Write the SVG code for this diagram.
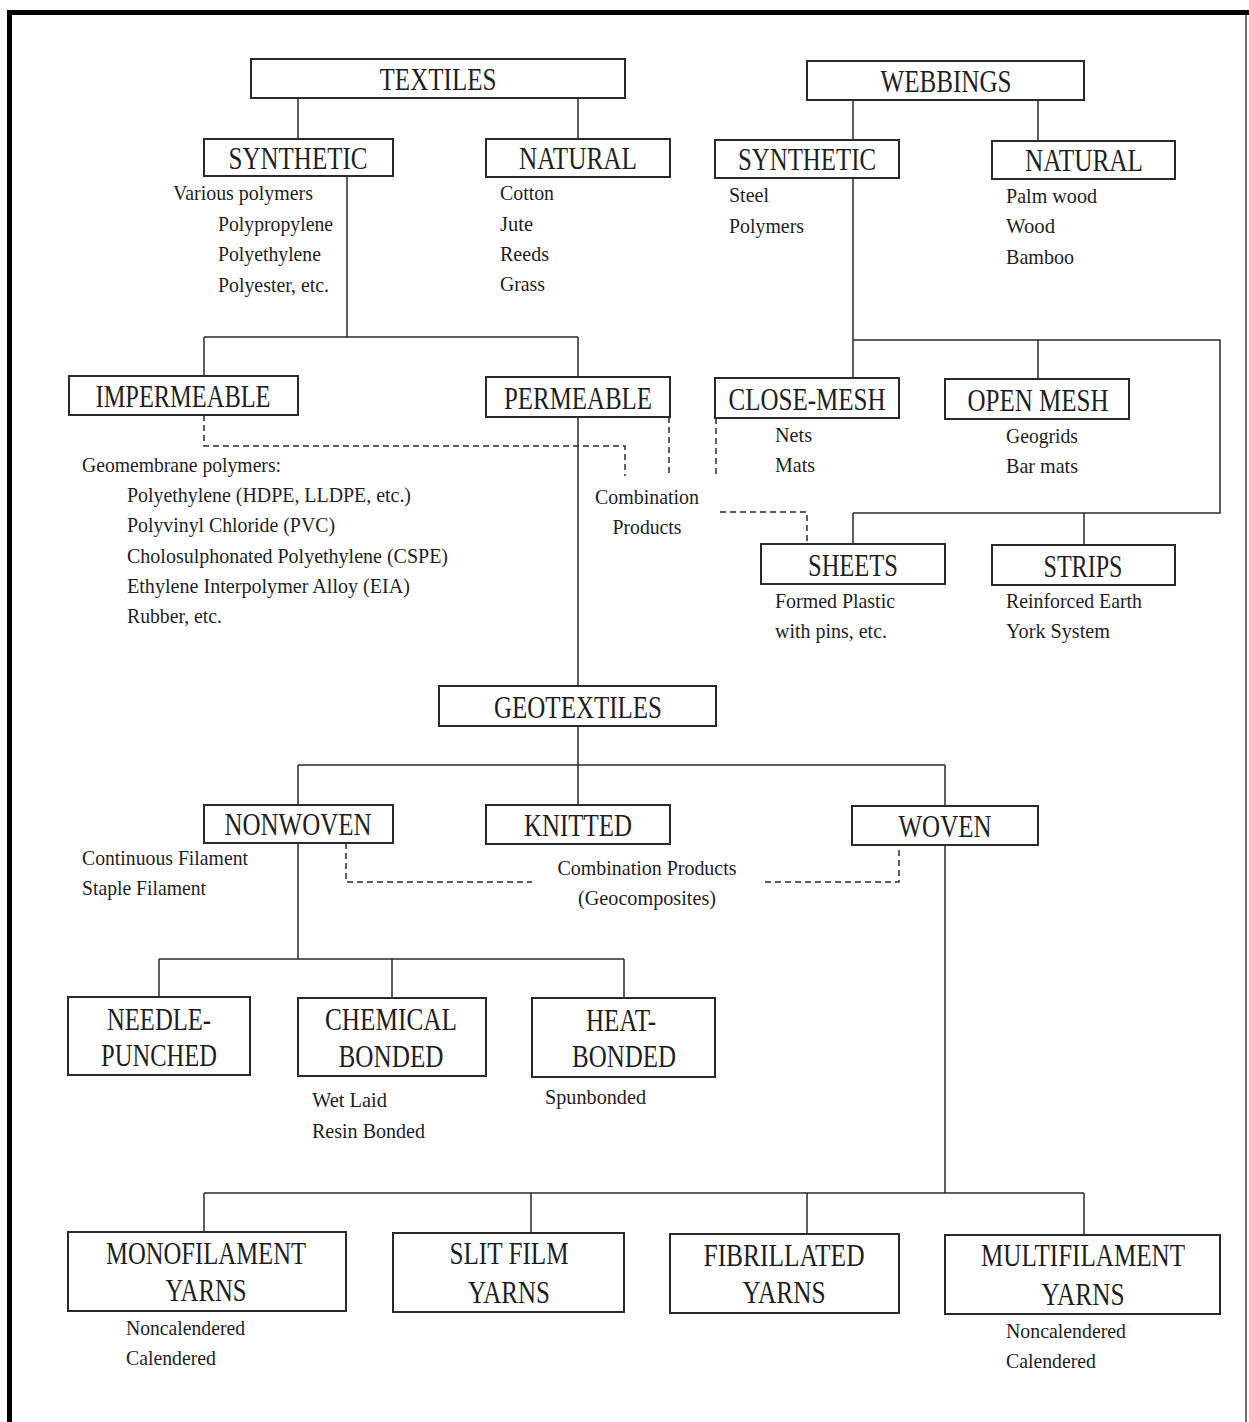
<svg xmlns="http://www.w3.org/2000/svg" width="1249" height="1422" viewBox="0 0 1249 1422">
<style>
.box{fill:#fff;stroke:#2a2a2a;stroke-width:2}
.lbl{font-family:"Liberation Serif","Times New Roman",serif;font-size:31px;fill:#1e1e1e;text-anchor:middle}
.txt{font-family:"Liberation Serif","Times New Roman",serif;font-size:22px;fill:#1e1e1e}
.mid{text-anchor:middle}
.conn{fill:none;stroke:#2a2a2a;stroke-width:1.5}
.dash{fill:none;stroke:#2a2a2a;stroke-width:1.5;stroke-dasharray:6 4}
</style>
<rect width="1249" height="1422" fill="#fff"/>
<g id="frame">
<rect x="7" y="10" width="1242" height="5" fill="#000"/>
<rect x="7" y="10" width="5" height="1412" fill="#000"/>
<line x1="1246" y1="15" x2="1246" y2="1422" stroke="#444" stroke-width="1.5"/>
</g>
<g id="connectors">
<path class="conn" d="M298 98V139M578 98V139M853 100V140M1038 100V141"/>
<path class="conn" d="M347 176V337M204 337H578M204 337V376M578 337V377"/>
<path class="conn" d="M853 178V378M853 340H1220V513H853M1038 340V379M853 513V544M1084 513V545"/>
<path class="conn" d="M578 417V686"/>
<path class="conn" d="M578 726V805M298 765H945M298 765V805M945 765V806"/>
<path class="conn" d="M298 843V959M159 959H624M159 959V997M392 959V998M624 959V998"/>
<path class="conn" d="M945 845V1193M204 1193H1084M204 1193V1232M531 1193V1233M807 1193V1234M1084 1193V1235"/>
<path class="dash" d="M204 415V446H625V476M669 417V476"/>
<path class="dash" d="M716 418V476M720 512H807V544"/>
<path class="dash" d="M346 843V882H532M765 882H899V845"/>
</g>
<g id="textiles"><rect class="box" x="251" y="59" width="374" height="39"/><text class="lbl" x="438" y="90" textLength="117" lengthAdjust="spacingAndGlyphs">TEXTILES</text></g>
<g id="webbings"><rect class="box" x="807" y="61" width="277" height="39"/><text class="lbl" x="946" y="92" textLength="131" lengthAdjust="spacingAndGlyphs">WEBBINGS</text></g>
<g id="textiles-synthetic"><rect class="box" x="204" y="139" width="189" height="37"/><text class="lbl" x="298" y="169" textLength="139" lengthAdjust="spacingAndGlyphs">SYNTHETIC</text>
<text class="txt" x="173" y="200" textLength="140" lengthAdjust="spacingAndGlyphs">Various polymers</text>
<text class="txt" x="218" y="231" textLength="115" lengthAdjust="spacingAndGlyphs">Polypropylene</text>
<text class="txt" x="218" y="261" textLength="103" lengthAdjust="spacingAndGlyphs">Polyethylene</text>
<text class="txt" x="218" y="292" textLength="111" lengthAdjust="spacingAndGlyphs">Polyester, etc.</text></g>
<g id="textiles-natural"><rect class="box" x="486" y="139" width="184" height="38"/><text class="lbl" x="578" y="169" textLength="118" lengthAdjust="spacingAndGlyphs">NATURAL</text>
<text class="txt" x="500" y="200" textLength="54" lengthAdjust="spacingAndGlyphs">Cotton</text>
<text class="txt" x="500" y="231" textLength="33" lengthAdjust="spacingAndGlyphs">Jute</text>
<text class="txt" x="500" y="261" textLength="49" lengthAdjust="spacingAndGlyphs">Reeds</text>
<text class="txt" x="500" y="291" textLength="45" lengthAdjust="spacingAndGlyphs">Grass</text></g>
<g id="webbings-synthetic"><rect class="box" x="715" y="140" width="184" height="38"/><text class="lbl" x="807" y="170" textLength="138" lengthAdjust="spacingAndGlyphs">SYNTHETIC</text>
<text class="txt" x="729" y="202" textLength="40" lengthAdjust="spacingAndGlyphs">Steel</text>
<text class="txt" x="729" y="233" textLength="75" lengthAdjust="spacingAndGlyphs">Polymers</text></g>
<g id="webbings-natural"><rect class="box" x="992" y="141" width="183" height="38"/><text class="lbl" x="1084" y="171" textLength="118" lengthAdjust="spacingAndGlyphs">NATURAL</text>
<text class="txt" x="1006" y="203" textLength="91" lengthAdjust="spacingAndGlyphs">Palm wood</text>
<text class="txt" x="1006" y="233" textLength="49" lengthAdjust="spacingAndGlyphs">Wood</text>
<text class="txt" x="1006" y="264" textLength="68" lengthAdjust="spacingAndGlyphs">Bamboo</text></g>
<g id="impermeable"><rect class="box" x="69" y="376" width="229" height="39"/><text class="lbl" x="183" y="407" textLength="175" lengthAdjust="spacingAndGlyphs">IMPERMEABLE</text>
<text class="txt" x="82" y="472" textLength="199" lengthAdjust="spacingAndGlyphs">Geomembrane polymers:</text>
<text class="txt" x="127" y="502" textLength="284" lengthAdjust="spacingAndGlyphs">Polyethylene (HDPE, LLDPE, etc.)</text>
<text class="txt" x="127" y="532" textLength="208" lengthAdjust="spacingAndGlyphs">Polyvinyl Chloride (PVC)</text>
<text class="txt" x="127" y="563" textLength="321" lengthAdjust="spacingAndGlyphs">Cholosulphonated Polyethylene (CSPE)</text>
<text class="txt" x="127" y="593" textLength="283" lengthAdjust="spacingAndGlyphs">Ethylene Interpolymer Alloy (EIA)</text>
<text class="txt" x="127" y="623" textLength="95" lengthAdjust="spacingAndGlyphs">Rubber, etc.</text></g>
<g id="permeable"><rect class="box" x="486" y="377" width="184" height="40"/><text class="lbl" x="578" y="409" textLength="148" lengthAdjust="spacingAndGlyphs">PERMEABLE</text></g>
<g id="combination-products-1"><text class="txt mid" x="647" y="504" textLength="104" lengthAdjust="spacingAndGlyphs">Combination</text>
<text class="txt mid" x="647" y="534" textLength="69" lengthAdjust="spacingAndGlyphs">Products</text></g>
<g id="close-mesh"><rect class="box" x="715" y="378" width="184" height="40"/><text class="lbl" x="807" y="410" textLength="157" lengthAdjust="spacingAndGlyphs">CLOSE-MESH</text>
<text class="txt" x="775" y="442" textLength="37" lengthAdjust="spacingAndGlyphs">Nets</text>
<text class="txt" x="775" y="472" textLength="40" lengthAdjust="spacingAndGlyphs">Mats</text></g>
<g id="open-mesh"><rect class="box" x="945" y="379" width="184" height="40"/><text class="lbl" x="1038" y="411" textLength="141" lengthAdjust="spacingAndGlyphs">OPEN MESH</text>
<text class="txt" x="1006" y="443" textLength="72" lengthAdjust="spacingAndGlyphs">Geogrids</text>
<text class="txt" x="1006" y="473" textLength="72" lengthAdjust="spacingAndGlyphs">Bar mats</text></g>
<g id="sheets"><rect class="box" x="761" y="544" width="184" height="40"/><text class="lbl" x="853" y="576" textLength="90" lengthAdjust="spacingAndGlyphs">SHEETS</text>
<text class="txt" x="775" y="608" textLength="120" lengthAdjust="spacingAndGlyphs">Formed Plastic</text>
<text class="txt" x="775" y="638" textLength="112" lengthAdjust="spacingAndGlyphs">with pins, etc.</text></g>
<g id="strips"><rect class="box" x="992" y="545" width="183" height="40"/><text class="lbl" x="1083" y="577" textLength="79" lengthAdjust="spacingAndGlyphs">STRIPS</text>
<text class="txt" x="1006" y="608" textLength="136" lengthAdjust="spacingAndGlyphs">Reinforced Earth</text>
<text class="txt" x="1006" y="638" textLength="104" lengthAdjust="spacingAndGlyphs">York System</text></g>
<g id="geotextiles"><rect class="box" x="439" y="686" width="277" height="40"/><text class="lbl" x="578" y="718" textLength="168" lengthAdjust="spacingAndGlyphs">GEOTEXTILES</text></g>
<g id="nonwoven"><rect class="box" x="204" y="805" width="189" height="38"/><text class="lbl" x="298" y="835" textLength="147" lengthAdjust="spacingAndGlyphs">NONWOVEN</text>
<text class="txt" x="82" y="865" textLength="166" lengthAdjust="spacingAndGlyphs">Continuous Filament</text>
<text class="txt" x="82" y="895" textLength="124" lengthAdjust="spacingAndGlyphs">Staple Filament</text></g>
<g id="knitted"><rect class="box" x="486" y="805" width="184" height="39"/><text class="lbl" x="578" y="836" textLength="108" lengthAdjust="spacingAndGlyphs">KNITTED</text></g>
<g id="woven"><rect class="box" x="852" y="806" width="186" height="39"/><text class="lbl" x="945" y="837" textLength="93" lengthAdjust="spacingAndGlyphs">WOVEN</text></g>
<g id="combination-products-2"><text class="txt mid" x="647" y="875" textLength="179" lengthAdjust="spacingAndGlyphs">Combination Products</text>
<text class="txt mid" x="647" y="905" textLength="138" lengthAdjust="spacingAndGlyphs">(Geocomposites)</text></g>
<g id="needle-punched"><rect class="box" x="68" y="997" width="182" height="78"/><text class="lbl" x="159" y="1030" textLength="104" lengthAdjust="spacingAndGlyphs">NEEDLE-</text><text class="lbl" x="159" y="1066" textLength="116" lengthAdjust="spacingAndGlyphs">PUNCHED</text></g>
<g id="chemical-bonded"><rect class="box" x="298" y="998" width="188" height="78"/><text class="lbl" x="391" y="1030" textLength="132" lengthAdjust="spacingAndGlyphs">CHEMICAL</text><text class="lbl" x="391" y="1067" textLength="105" lengthAdjust="spacingAndGlyphs">BONDED</text>
<text class="txt" x="312" y="1107" textLength="75" lengthAdjust="spacingAndGlyphs">Wet Laid</text>
<text class="txt" x="312" y="1138" textLength="113" lengthAdjust="spacingAndGlyphs">Resin Bonded</text></g>
<g id="heat-bonded"><rect class="box" x="532" y="998" width="183" height="79"/><text class="lbl" x="621" y="1031" textLength="70" lengthAdjust="spacingAndGlyphs">HEAT-</text><text class="lbl" x="624" y="1067" textLength="104" lengthAdjust="spacingAndGlyphs">BONDED</text>
<text class="txt" x="545" y="1104" textLength="101" lengthAdjust="spacingAndGlyphs">Spunbonded</text></g>
<g id="monofilament"><rect class="box" x="68" y="1232" width="278" height="79"/><text class="lbl" x="206" y="1264" textLength="200" lengthAdjust="spacingAndGlyphs">MONOFILAMENT</text><text class="lbl" x="206" y="1301" textLength="81" lengthAdjust="spacingAndGlyphs">YARNS</text>
<text class="txt" x="126" y="1335" textLength="119" lengthAdjust="spacingAndGlyphs">Noncalendered</text>
<text class="txt" x="126" y="1365" textLength="90" lengthAdjust="spacingAndGlyphs">Calendered</text></g>
<g id="slit-film"><rect class="box" x="393" y="1233" width="231" height="79"/><text class="lbl" x="509" y="1264" textLength="119" lengthAdjust="spacingAndGlyphs">SLIT FILM</text><text class="lbl" x="509" y="1303" textLength="82" lengthAdjust="spacingAndGlyphs">YARNS</text></g>
<g id="fibrillated"><rect class="box" x="670" y="1234" width="229" height="79"/><text class="lbl" x="784" y="1266" textLength="161" lengthAdjust="spacingAndGlyphs">FIBRILLATED</text><text class="lbl" x="784" y="1303" textLength="83" lengthAdjust="spacingAndGlyphs">YARNS</text></g>
<g id="multifilament"><rect class="box" x="945" y="1235" width="275" height="79"/><text class="lbl" x="1083" y="1266" textLength="204" lengthAdjust="spacingAndGlyphs">MULTIFILAMENT</text><text class="lbl" x="1083" y="1305" textLength="83" lengthAdjust="spacingAndGlyphs">YARNS</text>
<text class="txt" x="1006" y="1338" textLength="120" lengthAdjust="spacingAndGlyphs">Noncalendered</text>
<text class="txt" x="1006" y="1368" textLength="90" lengthAdjust="spacingAndGlyphs">Calendered</text></g>
</svg>
